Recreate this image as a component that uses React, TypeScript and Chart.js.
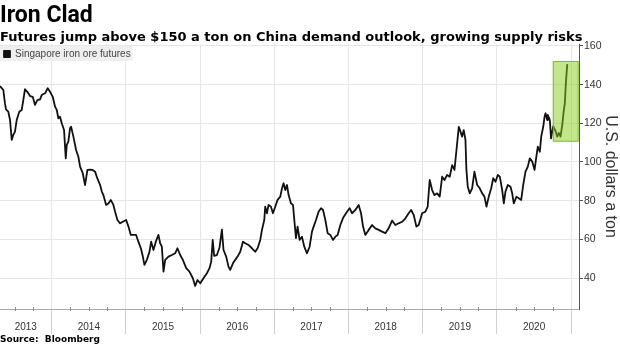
import { useEffect, useRef } from 'react';
import { Chart, registerables } from 'chart.js';

Chart.register(...registerables);

// ---- Data (decimal years, US$ per ton) ----
const dates = [
  2013.303, 2013.348, 2013.370, 2013.384, 2013.415, 2013.438, 2013.461, 2013.482, 2013.505, 2013.528,
  2013.563, 2013.596, 2013.617, 2013.640, 2013.671, 2013.708, 2013.744, 2013.775, 2013.806, 2013.843,
  2013.865, 2013.910, 2013.946, 2013.977, 2014.014, 2014.045, 2014.068, 2014.089, 2014.112, 2014.135,
  2014.166, 2014.189, 2014.203, 2014.224, 2014.247, 2014.261, 2014.292, 2014.328, 2014.359, 2014.382,
  2014.418, 2014.449, 2014.481, 2014.517, 2014.553, 2014.584, 2014.615, 2014.652, 2014.675, 2014.696,
  2014.733, 2014.764, 2014.796, 2014.831, 2014.854, 2014.885, 2014.922, 2014.958, 2015.003, 2015.034,
  2015.066, 2015.101, 2015.137, 2015.168, 2015.201, 2015.228, 2015.249, 2015.282, 2015.317, 2015.340,
  2015.371, 2015.403, 2015.438, 2015.461, 2015.484, 2015.506, 2015.529, 2015.573, 2015.619, 2015.663,
  2015.694, 2015.731, 2015.767, 2015.812, 2015.856, 2015.902, 2015.933, 2015.964, 2016.001, 2016.045,
  2016.091, 2016.126, 2016.149, 2016.169, 2016.189, 2016.226, 2016.261, 2016.293, 2016.315, 2016.351,
  2016.382, 2016.405, 2016.442, 2016.473, 2016.504, 2016.540, 2016.577, 2016.608, 2016.652, 2016.698,
  2016.742, 2016.774, 2016.810, 2016.833, 2016.864, 2016.877, 2016.900, 2016.922, 2016.954, 2016.981,
  2017.012, 2017.043, 2017.080, 2017.103, 2017.124, 2017.147, 2017.170, 2017.192, 2017.224, 2017.251,
  2017.269, 2017.291, 2017.313, 2017.340, 2017.372, 2017.403, 2017.440, 2017.475, 2017.507, 2017.529,
  2017.561, 2017.596, 2017.629, 2017.656, 2017.687, 2017.718, 2017.754, 2017.790, 2017.822, 2017.853,
  2017.889, 2017.925, 2017.979, 2018.014, 2018.047, 2018.091, 2018.136, 2018.168, 2018.195, 2018.226,
  2018.271, 2018.317, 2018.361, 2018.406, 2018.451, 2018.496, 2018.540, 2018.586, 2018.631, 2018.675,
  2018.721, 2018.766, 2018.810, 2018.843, 2018.878, 2018.914, 2018.945, 2018.991, 2019.035, 2019.066,
  2019.093, 2019.126, 2019.157, 2019.193, 2019.228, 2019.261, 2019.292, 2019.328, 2019.363, 2019.396,
  2019.427, 2019.454, 2019.485, 2019.508, 2019.530, 2019.552, 2019.575, 2019.588, 2019.606, 2019.633,
  2019.665, 2019.696, 2019.733, 2019.768, 2019.800, 2019.831, 2019.858, 2019.889, 2019.922, 2019.949,
  2019.980, 2020.011, 2020.038, 2020.070, 2020.092, 2020.114, 2020.146, 2020.182, 2020.205, 2020.226,
  2020.263, 2020.294, 2020.326, 2020.353, 2020.384, 2020.415, 2020.442, 2020.475, 2020.506, 2020.533,
  2020.550, 2020.577, 2020.596, 2020.623, 2020.641, 2020.654, 2020.677, 2020.685, 2020.712, 2020.728,
  2020.758, 2020.789, 2020.812, 2020.833, 2020.856, 2020.879, 2020.901, 2020.914, 2020.928, 2020.947,
];

const prices = [
  139.3, 137.2, 130.3, 127.2, 126.0, 121.7, 111.4, 114.0, 115.7, 121.7,
  126.0, 126.9, 132.0, 137.6, 136.3, 134.1, 133.7, 129.5, 132.0, 132.4,
  134.6, 135.5, 138.1, 136.3, 133.7, 128.6, 126.9, 122.6, 123.4, 120.0,
  116.5, 101.9, 108.8, 110.5, 117.4, 118.2, 113.1, 106.2, 102.7, 97.6,
  94.2, 88.1, 95.9, 96.0, 95.9, 95.0, 91.5, 88.1, 84.7, 82.9,
  77.8, 78.6, 80.4, 77.8, 74.3, 70.0, 68.3, 69.1, 70.0, 66.6,
  62.3, 62.3, 62.3, 58.8, 55.4, 51.1, 46.8, 49.4, 53.6, 58.8,
  54.5, 58.8, 62.3, 58.0, 56.2, 43.3, 49.4, 51.1, 51.9, 52.8,
  55.4, 51.9, 49.4, 45.1, 43.3, 39.9, 35.9, 39.0, 37.3, 39.9,
  42.5, 45.1, 48.5, 59.7, 51.5, 51.9, 55.8, 65.0, 54.5, 51.1,
  45.9, 44.2, 47.6, 49.4, 51.1, 53.6, 58.8, 58.0, 57.1, 55.4,
  53.6, 55.4, 59.7, 64.9, 70.0, 76.9, 73.5, 77.8, 76.9, 73.5,
  76.9, 80.4, 82.1, 86.4, 89.0, 85.5, 88.1, 82.9, 78.6, 77.8,
  70.0, 60.6, 66.6, 59.7, 61.4, 56.2, 52.8, 56.2, 64.0, 66.6,
  70.0, 74.3, 76.1, 75.2, 70.0, 63.2, 62.3, 59.7, 61.4, 62.3,
  67.4, 71.0, 74.3, 76.1, 73.5, 75.2, 77.8, 73.5, 66.6, 62.3,
  64.9, 67.4, 65.7, 64.9, 64.0, 63.2, 65.7, 69.7, 67.4, 68.3,
  69.1, 70.9, 73.5, 75.2, 72.6, 66.6, 67.4, 73.5, 74.3, 76.9,
  90.7, 85.5, 82.9, 83.8, 82.1, 92.4, 90.7, 93.3, 92.4, 98.4,
  95.9, 106.2, 118.2, 115.7, 113.1, 116.5, 111.4, 95.9, 87.2, 83.8,
  86.4, 95.0, 88.1, 86.4, 83.8, 82.1, 76.9, 82.1, 86.4, 91.6,
  89.8, 93.3, 92.4, 85.5, 78.6, 84.7, 88.1, 87.2, 83.8, 78.6,
  82.1, 81.2, 80.4, 88.1, 95.0, 97.6, 101.9, 100.2, 95.9, 103.6,
  107.9, 105.3, 113.1, 118.2, 123.4, 125.2, 121.7, 124.3, 121.7, 112.2,
  118.5, 116.0, 113.1, 115.0, 113.1, 119.1, 126.9, 130.3, 140.7, 150.6,
];

const seriesLabel = 'Singapore iron ore futures';
const yearLabels = ['2013', '2014', '2015', '2016', '2017', '2018', '2019', '2020'];
const yearLabelPositions = [2013.65, 2014.5, 2015.5, 2016.5, 2017.5, 2018.5, 2019.5, 2020.5];
const yearBoundaries = [2014, 2015, 2016, 2017, 2018, 2019, 2020, 2021];
const quarterFractions = [0.25, 0.5, 0.75];
const yTicks = [40, 60, 80, 100, 120, 140, 160];
const xRange = [2013.303, 2021.105];
const yRange = [24, 161];
const highlightDates = [2020.752, 2021.1];
const highlightPrices = [110.5, 152.2];

const titleText = 'Iron Clad';
const subtitleText = 'Futures jump above $150 a ton on China demand outlook, growing supply risks';
const sourceText = 'Source:\u00a0 Bloomberg';
const yTitle = 'U.S. dollars a ton';

const SANS = "'Liberation Sans', Arial, sans-serif";

const isBoundary = (v: number) => yearBoundaries.includes(v);

// Draws the library legend inside the top-left of the chart area, on a light grey panel
const legendBgPlugin = {
  id: 'legendBg',
  beforeDraw(chart: any) {
    const lg = chart.legend;
    if (lg && !lg.__wrapped) {
      const orig = lg.draw.bind(lg);
      lg.draw = function (...args: any[]) {
        const ctx = chart.ctx;
        const area = chart.chartArea;
        const dx = area.left - (lg.left || 0);
        const dy = area.top + 1 - (lg.top || 0);
        ctx.save();
        ctx.translate(dx, dy);
        const hb = lg.legendHitBoxes && lg.legendHitBoxes[0];
        if (hb) {
          ctx.fillStyle = '#efefef';
          const left = lg.left || 0;
          ctx.fillRect(left, hb.top - 3, hb.left + hb.width + 2 - left, hb.height + 5);
        }
        orig(...args);
        ctx.restore();
      };
      lg.__wrapped = true;
    }
  },
};

const highlightPlugin = {
  id: 'highlightBox',
  afterDatasetsDraw(chart: any) {
    const { ctx, scales } = chart;
    const x1 = scales.x.getPixelForValue(highlightDates[0]);
    const x2 = scales.x.getPixelForValue(highlightDates[1]);
    const y1 = scales.y.getPixelForValue(highlightPrices[1]);
    const y2 = scales.y.getPixelForValue(highlightPrices[0]);
    ctx.save();
    ctx.fillStyle = 'rgba(135, 205, 25, 0.5)';
    ctx.fillRect(x1, y1, x2 - x1, y2 - y1);
    ctx.strokeStyle = 'rgba(120, 185, 40, 0.9)';
    ctx.lineWidth = 1;
    ctx.strokeRect(x1 + 0.5, y1 + 0.5, x2 - x1 - 1, y2 - y1 - 1);
    ctx.restore();
  },
};

const minorTickPlugin = {
  id: 'minorTicks',
  afterDraw(chart: any) {
    const { ctx, chartArea } = chart;
    const xs = chart.scales.x;
    ctx.save();
    ctx.strokeStyle = '#8a8a8a';
    ctx.lineWidth = 1;
    ctx.beginPath();
    const years = [2013, ...yearBoundaries];
    years.forEach((yr) => {
      quarterFractions.forEach((q) => {
        const v = yr + q;
        if (v <= xRange[0] || v >= xRange[1]) return;
        const px = Math.round(xs.getPixelForValue(v)) + 0.5;
        ctx.moveTo(px, chartArea.bottom - 2);
        ctx.lineTo(px, chartArea.bottom + 2);
      });
    });
    ctx.stroke();
    ctx.restore();
  },
};

export default function App() {
  const canvasRef = useRef<HTMLCanvasElement | null>(null);

  useEffect(() => {
    if (!canvasRef.current) return;
    const chart = new Chart(canvasRef.current, {
      type: 'line',
      data: {
        datasets: [
          {
            label: seriesLabel,
            data: dates.map((d, i) => ({ x: d, y: prices[i] })),
            borderColor: '#111',
            backgroundColor: '#111',
            borderWidth: 1.8,
            borderJoinStyle: 'round',
            pointRadius: 0,
            tension: 0,
          },
        ],
      },
      options: {
        responsive: false,
        animation: false,
        devicePixelRatio: 1,
        layout: { padding: { top: 44, left: 0, right: 0, bottom: 12 } },
        scales: {
          x: {
            type: 'linear',
            position: 'bottom',
            min: xRange[0],
            max: xRange[1],
            afterBuildTicks: (s: any) => {
              s.ticks = [...yearBoundaries, ...yearLabelPositions]
                .sort((a, b) => a - b)
                .map((v) => ({ value: v }));
            },
            afterFit: (s: any) => {
              s.height = 27;
            },
            grid: {
              color: (c: any) => (c.tick && isBoundary(c.tick.value) ? '#e6e6e6' : 'rgba(0,0,0,0)'),
              tickColor: (c: any) => (c.tick && isBoundary(c.tick.value) ? '#cfcfcf' : 'rgba(0,0,0,0)'),
              tickLength: 25,
              lineWidth: 1,
            },
            border: { display: true, color: '#a8a8a8', width: 1 },
            ticks: {
              autoSkip: false,
              maxRotation: 0,
              padding: -13,
              color: '#333',
              font: { size: 10, family: SANS },
              callback: (v: any) => {
                const i = yearLabelPositions.indexOf(Number(v));
                return i >= 0 ? yearLabels[i] : '';
              },
            },
          },
          y: {
            type: 'linear',
            position: 'right',
            min: yRange[0],
            max: yRange[1],
            afterBuildTicks: (s: any) => {
              s.ticks = yTicks.map((v) => ({ value: v }));
            },
            afterFit: (s: any) => {
              s.width = 41;
            },
            grid: { color: '#e6e6e6', tickColor: '#555', tickLength: 4, lineWidth: 1 },
            border: { display: true, color: '#555', width: 1 },
            ticks: { padding: 1, color: '#333', font: { size: 10.5, family: SANS } },
            title: {
              display: true,
              text: yTitle,
              color: '#333',
              font: { size: 16, family: SANS },
              padding: 0,
            },
          },
        },
        plugins: {
          legend: {
            position: 'chartArea',
            align: 'start',
            labels: {
              boxWidth: 6,
              boxHeight: 6,
              padding: 4,
              color: '#444',
              font: { size: 10, family: SANS },
            },
          },
          tooltip: { enabled: false },
          title: { display: false },
        },
      } as any,
      plugins: [legendBgPlugin, highlightPlugin, minorTickPlugin],
    });
    return () => chart.destroy();
  }, []);

  return (
    <div
      style={{
        position: 'fixed',
        left: 0,
        top: 0,
        width: 620,
        height: 348,
        background: '#fff',
        overflow: 'hidden',
      }}
    >
      <canvas
        ref={canvasRef}
        width={620}
        height={348}
        style={{ position: 'absolute', left: 0, top: 0, width: 620, height: 348 }}
      />
      <div
        style={{
          position: 'absolute',
          left: 0,
          top: 3,
          font: "bold 23px Roboto, 'Liberation Sans', sans-serif",
          lineHeight: '23px',
          color: '#000',
          whiteSpace: 'nowrap',
        }}
      >
        {titleText}
      </div>
      <div
        style={{
          position: 'absolute',
          left: 0,
          top: 30.3,
          font: "bold 13px 'DejaVu Sans', sans-serif",
          lineHeight: '13px',
          color: '#000',
          whiteSpace: 'nowrap',
        }}
      >
        {subtitleText}
      </div>
      <div
        style={{
          position: 'absolute',
          left: 0,
          top: 334.5,
          font: "bold 9px 'DejaVu Sans', sans-serif",
          lineHeight: '9px',
          color: '#000',
          whiteSpace: 'nowrap',
        }}
      >
        {sourceText}
      </div>
    </div>
  );
}
